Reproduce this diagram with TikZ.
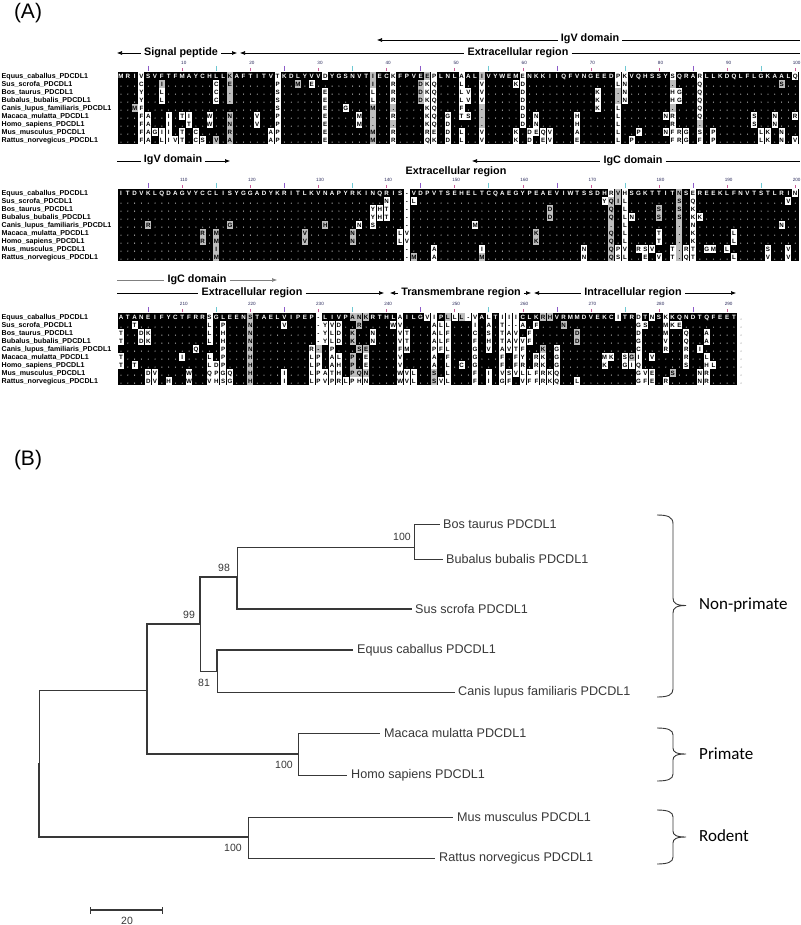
\documentclass[tikz,border=0pt]{standalone}
\usepackage{fontspec}
\setmainfont{Liberation Sans}
\newfontfamily\calib{Carlito}
\usetikzlibrary{arrows.meta}

\definecolor{algray}{gray}{0.74}
\definecolor{tkA}{RGB}{140,90,200}
\definecolor{tkB}{RGB}{110,200,210}
\definecolor{tkC}{RGB}{200,90,150}
\definecolor{numc}{RGB}{40,40,90}
\definecolor{treec}{gray}{0.22}

\newcommand\AX{117.6}
\newcommand\AW{6.81}
\newcommand\AH{8.0}
\newcommand\myalfont{\bfseries\fontsize{6.2}{6.2}\selectfont}
\newcommand\mynmfont{\bfseries\fontsize{7.1}{7.1}\selectfont}
\newcommand\myhdfont{\bfseries\fontsize{10.8}{11}\selectfont}
\newcommand\mynumfont{\fontsize{4.6}{4.6}\selectfont}
\newcommand\mytrfont{\fontsize{12.6}{13}\selectfont}
\newcommand\mybsfont{\fontsize{10.5}{11}\selectfont}

\newcount\alc
% consensus row: #1 block id, #2 y, #3 sequence
\def\consrow#1#2#3{\alc=0 \def\cbid{#1}\def\cyy{#2}\consparse#3!}
\def\consparse#1{\ifx#1!\let\alnext\relax\else\def\alch{#1}\let\alnext\consdo\fi\alnext}
\def\consdo{\advance\alc by 1
  \ifcsname cb@\cbid @\the\alc\endcsname
    \edef\cst{\csname cb@\cbid @\the\alc\endcsname}%
    \node[cell,\cst] at ({\AX+(\the\alc-0.5)*\AW},\cyy) {\alch};
  \else
    \node[aln,text=white] at ({\AX+(\the\alc-0.5)*\AW},\cyy) {\alch};
  \fi
  \consparse}
\newcommand\consbox[2]{\foreach \c/\s in {#2}{\expandafter\xdef\csname cb@#1@\c\endcsname{\s}}}

\tikzset{
  aln/.style={inner sep=0pt, text height=4.6pt, text depth=0pt, font=\myalfont},
  cell/.style={aln, minimum width=6.0pt, minimum height=7.2pt},
  sw/.style={fill=white, text=black},
  sg/.style={fill=algray, text=black},
  sk/.style={fill=black, text=white},
  nm/.style={anchor=west, inner sep=0pt, text height=5pt, text depth=0pt, font=\mynmfont},
  hdr/.style={inner ysep=1pt, inner xsep=3pt, font=\myhdfont},
  hl/.style={line width=0.6pt},
  tipr/.style={hl, -{Latex[length=5pt,width=4pt]}},
  tipl/.style={hl, {Latex[length=5pt,width=4pt]}-},
  br/.style={draw=treec, line width=0.75pt},
  brk/.style={draw=treec, line width=1.25pt},
  leaf/.style={anchor=west, inner sep=0pt, font=\mytrfont, text=treec},
  bs/.style={inner sep=0pt, font=\mybsfont, text=treec},
  grp/.style={anchor=west, inner sep=0pt, font=\calib\fontsize{17}{18}\selectfont},
  brace/.style={draw=treec, line width=0.9pt},
}

\newcommand\subrow[2]{\foreach \c/\t/\s in {#2}{\node[cell,\s] at ({\AX+(\c-0.5)*\AW},#1) {\t};}}

% #1 first row y, #2 number of columns, #3 offset of numbering
\newcommand\alblock[3]{%
  \fill[black] (\AX,#1-4) rectangle ({\AX+#2*\AW},{#1+8*\AH+4});
  \foreach \r in {1,...,8}{\foreach \c in {1,...,#2}{\fill[white] ({\AX+(\c-0.5)*\AW},{#1+\r*\AH+2.1}) circle (0.55pt);}}
  \foreach \c in {5,25,...,#2}{\draw[tkA,line width=0.6pt] ({\AX+(\c-0.5)*\AW},#1-10) -- ({\AX+(\c-0.5)*\AW},#1-5);}
  \foreach \c in {15,35,...,#2}{\draw[tkB,line width=0.6pt] ({\AX+(\c-0.5)*\AW},#1-10) -- ({\AX+(\c-0.5)*\AW},#1-5);}
  \foreach \c in {10,20,...,#2}{\draw[tkC,line width=0.5pt] ({\AX+(\c-0.5)*\AW},#1-8) -- ({\AX+(\c-0.5)*\AW},#1-5);
    \pgfmathtruncatemacro\lab{#3+\c}
    \node[inner sep=0pt, font=\mynumfont, text=numc] at ({\AX+(\c-0.5)*\AW+1.5},#1-13) {\lab};}
  \foreach \nme [count=\k from 0] in {Equus\_caballus\_PDCDL1, Sus\_scrofa\_PDCDL1, Bos\_taurus\_PDCDL1, Bubalus\_bubalis\_PDCDL1, Canis\_lupus\_familiaris\_PDCDL1, Macaca\_mulatta\_PDCDL1, Homo\_sapiens\_PDCDL1, Mus\_musculus\_PDCDL1, Rattus\_norvegicus\_PDCDL1}{\node[nm] at (1.5,{#1+\k*\AH}) {\nme};}
}

\begin{document}
\begin{tikzpicture}[x=1pt,y=-1pt]
\useasboundingbox (0,0) rectangle (800,925);
\fill[white] (0,0) rectangle (800,925);

% ================= (A) =================
\node[inner sep=0pt, font=\fontsize{21}{22}\selectfont] (labA) at (28,13) {(A)};

% ---------- block 1 ----------
\node[hdr] (igv1) at (590,39) {IgV domain};
\coordinate (igv1s) at (377,40); \coordinate (igv1e) at (800,40);
\draw[tipl] (igv1s) -- (igv1.west |- igv1s);
\draw[hl] (igv1.east |- igv1e) -- (igv1e);
\node[hdr] (sp1) at (181,53) {Signal peptide};
\coordinate (sp1s) at (117,53); \coordinate (sp1e) at (237,53);
\draw[tipl] (sp1s) -- (sp1.west);
\draw[tipr] (sp1.east) -- (sp1e);
\node[hdr] (ex1) at (518,53) {Extracellular region};
\coordinate (ex1s) at (240,53); \coordinate (ex1e) at (800,53);
\draw[tipl] (ex1s) -- (ex1.west);
\draw[hl] (ex1.east) -- (ex1e);

\alblock{76}{100}{0}
\consbox{a}{4/sw,17/sg,24/sw,31/sw,38/sg,41/sw,46/sg,47/sw,51/sw,54/sg,60/sw,74/sw,75/sw,82/sw,86/sw,100/sw}
\consrow{a}{76}{MRIVSVFTFMAYCHLLKAFTITVTKDLYVVDYGSNVTIECKFPVEEPLNLAALIVYWEMENKKIIQFVNGEEDPKVQHSSYSQRARLLKDQLFLGKAALQ}
\subrow{84}{4/C/sw,7/I/sg,15/C/sw,17/E/sg,24/P/sw,27/M/sg,29/E/sw,38/I/sg,41/R/sw,45/D/sg,46/K/sw,47/Q/sw,51/L/sw,54/V/sw,59/K/sw,60/D/sw,74/L/sw,75/N/sw,82/./sg,86/Q/sw,98/S/sg}
\subrow{92}{4/Y/sw,7/L/sw,15/C/sw,17/./sg,24/S/sw,31/E/sw,38/L/sw,41/R/sw,45/D/sg,46/K/sw,47/Q/sw,51/L/sw,52/V/sw,54/V/sw,60/D/sw,71/K/sw,74/./sg,75/N/sw,82/H/sw,83/G/sw,86/Q/sw}
\subrow{100}{4/Y/sw,7/L/sw,15/C/sw,17/./sg,24/S/sw,31/E/sw,38/L/sw,41/R/sw,45/D/sg,46/K/sw,47/Q/sw,51/L/sw,52/V/sw,54/V/sw,60/D/sw,71/K/sw,74/./sg,75/N/sw,82/H/sw,83/G/sw,86/Q/sw}
\subrow{108}{3/M/sg,4/F/sw,24/S/sw,31/E/sw,34/G/sw,38/M/sg,41/./sg,46/K/sw,47/Q/sw,51/F/sw,54/./sg,60/D/sw,71/K/sw,74/L/sw,82/./sg,86/Q/sw}
\subrow{116}{4/F/sw,5/A/sw,8/I/sw,10/T/sw,11/I/sw,14/W/sw,17/N/sg,21/V/sw,24/P/sw,31/E/sw,36/M/sw,38/./sg,41/R/sw,46/K/sw,47/Q/sw,49/G/sw,51/T/sw,52/S/sw,54/./sg,60/D/sw,62/N/sw,68/H/sw,74/L/sw,81/N/sw,82/R/sw,86/Q/sw,94/S/sw,97/N/sw,100/R/sw}
\subrow{124}{4/F/sw,5/A/sw,8/I/sw,11/T/sw,14/W/sw,17/N/sg,21/V/sw,24/P/sw,31/E/sw,36/M/sw,38/./sg,41/./sg,46/K/sw,47/Q/sw,49/D/sw,54/./sg,60/D/sw,62/N/sw,68/H/sw,74/L/sw,82/R/sw,86/./sg,94/S/sw,97/N/sw}
\subrow{132}{4/F/sw,5/A/sw,6/G/sw,7/I/sw,8/I/sw,10/T/sw,12/C/sw,17/R/sg,23/A/sw,24/P/sw,31/E/sw,38/M/sg,41/R/sw,46/R/sw,47/E/sw,49/D/sw,51/L/sw,54/V/sw,59/K/sw,61/D/sw,62/E/sw,63/Q/sw,64/V/sw,68/A/sw,74/L/sw,77/P/sw,81/N/sw,82/F/sw,83/R/sw,84/G/sw,86/S/sw,88/P/sw,95/L/sw,96/K/sw,98/N/sw}
\subrow{140}{4/F/sw,5/A/sw,7/L/sw,8/I/sw,9/V/sw,10/T/sw,12/C/sw,13/S/sw,15/V/sg,17/A/sg,23/A/sw,24/P/sw,31/E/sw,38/M/sg,41/R/sw,46/Q/sw,47/K/sw,49/D/sw,51/L/sw,54/V/sw,59/K/sw,61/D/sw,63/E/sw,64/V/sw,68/E/sw,74/L/sw,76/P/sw,82/F/sw,83/R/sw,84/G/sw,86/F/sw,88/P/sw,95/L/sw,96/K/sw,98/N/sw,100/V/sw}

% ---------- block 2 ----------
\node[hdr] (igv2) at (173,160) {IgV domain};
\coordinate (igv2s) at (117,161); \coordinate (igv2e) at (230,161);
\draw[hl] (igv2s) -- (igv2.west |- igv2s);
\draw[tipr] (igv2.east |- igv2e) -- (igv2e);
\node[hdr] (igc2) at (633,161) {IgC domain};
\coordinate (igc2s) at (472,161); \coordinate (igc2e) at (800,161);
\draw[tipl] (igc2s) -- (igc2.west);
\draw[hl] (igc2.east) -- (igc2e);
\node[hdr] (ex2) at (456,172) {Extracellular region};

\alblock{193}{100}{100}
\consbox{b}{43/sw,73/sw,74/sg,75/sw,83/sg,85/sw,100/sw}
\consrow{b}{193}{ITDVKLQDAGVYCCLISYGGADYKRITLKVNAPYRKINQRIS-VDPVTSEHELTCQAEGYPEAEVIWTSSDHRVHSGKTTITNSEREEKLFNVTSTLRIN}
\subrow{201}{40/N/sw,43/-/sw,44/L/sw,72/Y/sw,73/Q/sg,74/I/sg,75/L/sw,83/S/sg,85/Q/sw,99/V/sw}
\subrow{209}{38/Y/sw,39/H/sw,40/T/sw,43/-/sw,64/D/sg,73/Q/sg,75/L/sw,80/S/sg,83/S/sg,85/K/sw}
\subrow{217}{38/Y/sw,39/H/sw,40/T/sw,43/-/sw,64/D/sg,73/Q/sg,75/L/sw,76/N/sw,80/S/sg,83/S/sg,85/K/sw,86/K/sw}
\subrow{225}{5/R/sg,17/G/sg,31/H/sg,36/N/sw,38/S/sw,43/-/sw,53/M/sw,73/./sg,75/L/sw,83/./sg,85/N/sw,98/N/sw}
\subrow{233}{13/R/sg,15/M/sg,28/V/sg,35/N/sg,42/L/sw,43/V/sw,62/K/sg,73/Q/sg,75/L/sw,80/T/sw,83/./sg,85/K/sw,91/L/sw}
\subrow{241}{13/R/sg,15/M/sg,28/V/sg,35/N/sg,42/L/sw,43/V/sw,62/K/sg,73/Q/sg,75/L/sw,80/T/sw,83/./sg,85/K/sw,91/L/sw}
\subrow{249}{15/I/sg,43/-/sw,47/A/sw,54/I/sw,69/N/sw,73/Q/sg,74/P/sw,75/V/sw,77/R/sw,78/S/sw,79/V/sw,82/T/sw,83/./sg,84/R/sw,85/T/sw,87/G/sw,88/M/sw,90/L/sw,96/S/sw,99/V/sw}
\subrow{257}{15/M/sg,43/-/sw,44/M/sg,47/A/sw,54/M/sg,69/N/sw,73/Q/sg,74/S/sw,75/L/sw,78/E/sw,80/V/sw,82/T/sw,83/./sg,84/Q/sw,85/T/sw,91/L/sw,96/V/sw,99/V/sw}

% ---------- block 3 ----------
\node[hdr] (igc3) at (197,280) {IgC domain};
\coordinate (igc3s) at (117,280); \coordinate (igc3e) at (277,280);
\draw[hl,gray] (igc3s) -- (igc3.west);
\draw[tipr,gray] (igc3.east) -- (igc3e);
\node[hdr] (ex3) at (252,293) {Extracellular region};
\coordinate (ex3s) at (117,293); \coordinate (ex3e) at (384,293);
\draw[hl] (ex3s) -- (ex3.west);
\draw[tipr] (ex3.east) -- (ex3e);
\node[hdr] (tm3) at (461,293) {Transmembrane region};
\coordinate (tm3s) at (390,293); \coordinate (tm3e) at (531,293);
\draw[tipl] (tm3s) -- (tm3.west);
\draw[tipr] (tm3.east) -- (tm3e);
\node[hdr] (ic3) at (633,293) {Intracellular region};
\coordinate (ic3s) at (534,293); \coordinate (ic3e) at (736,293);
\draw[tipl] (ic3s) -- (ic3.west);
\draw[tipr] (ic3.east) -- (ic3e);

\alblock{317}{91}{200}
\consbox{c}{14/sw,20/sg,30/sw,35/sg,36/sg,37/sg,42/sw,46/sw,47/sw,49/sg,50/sw,51/sg,52/sw,53/sw,55/sw,57/sw,58/sw,59/sw,63/sg,64/sg,74/sw,77/sw,79/sw,81/sw}
\consrow{c}{317}{ATANEIFYCTFRRSGLEENSTAELVIPEP-LIVPANKRTHLAILGVIPLLL-VALTIIICLKRHVRMMDVEKCITRDTNSKKQNDTQFEET}
\subrow{325}{3/T/sw,14/L/sw,16/P/sw,20/N/sg,25/V/sw,30/-/sw,31/Y/sw,32/V/sw,33/D/sw,36/R/sg,41/W/sw,42/V/sw,47/A/sw,48/L/sw,49/L/sw,53/I/sw,55/A/sw,57/T/sw,58/-/sw,59/-/sw,60/A/sw,62/F/sw,66/N/sg,77/G/sw,78/S/sw,81/M/sw,82/K/sw,83/E/sw}
\subrow{333}{1/T/sw,4/D/sw,5/K/sw,14/L/sw,16/H/sw,20/N/sg,30/-/sw,31/Y/sw,32/L/sw,33/D/sw,35/K/sg,38/N/sw,42/V/sw,43/T/sw,47/A/sw,48/L/sw,49/F/sw,53/C/sw,55/S/sw,57/T/sw,58/A/sw,59/V/sw,61/F/sw,68/D/sg,77/D/sw,81/M/sw,84/Q/sw,87/A/sw}
\subrow{341}{1/T/sw,4/D/sw,5/K/sw,14/L/sw,16/H/sw,20/N/sg,30/-/sw,31/Y/sw,32/L/sw,33/D/sw,35/K/sg,38/N/sw,42/V/sw,43/T/sw,47/A/sw,48/L/sw,49/F/sw,53/F/sw,55/H/sw,57/T/sw,58/A/sw,59/V/sw,60/V/sw,61/F/sw,68/D/sg,77/G/sw,81/V/sw,84/Q/sw,87/A/sw}
\subrow{349}{12/Q/sw,16/P/sw,20/N/sg,29/R/sw,30/-/sg,32/P/sw,36/S/sg,37/E/sg,42/F/sw,43/M/sw,47/P/sw,48/F/sw,49/L/sw,53/G/sw,55/V/sw,57/A/sw,58/V/sw,59/T/sw,60/F/sw,63/K/sg,65/G/sw,77/C/sw,81/R/sw,84/R/sw,86/I/sw}
\subrow{357}{1/T/sw,10/I/sw,14/L/sw,16/P/sw,20/H/sg,29/L/sw,30/P/sw,32/A/sw,33/L/sw,35/P/sg,37/E/sw,42/V/sw,47/A/sw,49/F/sw,53/G/sw,57/F/sw,59/F/sw,60/Y/sw,62/R/sw,63/K/sw,65/G/sw,72/M/sw,73/K/sw,75/S/sw,76/G/sg,77/I/sw,79/V/sw,84/R/sw,87/L/sw}
\subrow{365}{1/T/sw,3/T/sw,14/L/sw,15/D/sw,16/P/sw,20/H/sg,29/L/sw,30/P/sw,32/A/sw,33/H/sw,35/P/sg,37/E/sw,42/V/sw,47/A/sw,49/L/sw,51/C/sw,53/G/sw,57/F/sw,59/F/sw,60/R/sw,62/R/sw,63/K/sw,65/G/sw,72/K/sw,75/G/sw,76/I/sw,77/Q/sw,84/S/sw,87/H/sw,88/L/sw}
\subrow{373}{5/D/sw,6/V/sw,11/W/sw,14/Q/sw,15/P/sw,16/G/sw,17/Q/sw,20/H/sg,25/I/sw,29/L/sw,30/P/sw,31/A/sw,32/T/sw,33/H/sw,35/P/sg,36/Q/sg,37/N/sg,42/W/sw,43/V/sw,44/L/sw,47/S/sg,49/L/sw,53/F/sw,55/I/sw,57/V/sw,58/S/sw,59/V/sw,60/L/sw,61/L/sw,62/F/sw,63/R/sw,64/K/sw,65/Q/sw,77/G/sw,78/V/sw,79/E/sw,82/S/sg,86/N/sw,87/R/sw}
\subrow{381}{5/D/sw,6/V/sw,8/H/sw,11/W/sw,14/V/sw,15/H/sw,16/S/sw,17/G/sw,20/H/sg,25/I/sw,29/L/sw,30/P/sw,31/V/sw,32/P/sw,33/R/sw,34/L/sw,35/P/sw,36/H/sw,37/N/sw,42/W/sw,43/V/sw,44/L/sw,47/S/sg,48/V/sw,49/L/sw,53/F/sw,55/I/sw,57/G/sw,58/F/sw,60/V/sw,61/F/sw,62/F/sw,63/R/sw,64/K/sw,65/Q/sw,68/L/sw,77/G/sw,78/F/sw,79/E/sw,81/R/sw,86/N/sw,87/R/sw}
\foreach \r in {0,...,8}{\fill[gray] (741,{317+\r*\AH+2.1}) circle (0.6pt);}

% ================= (B) =================
\node[inner sep=0pt, font=\fontsize{21}{22}\selectfont] (labB) at (28,460) {(B)};

% internal nodes (attachment points)
\coordinate (root) at (39,763);
\coordinate (nA)   at (147,690);
\coordinate (n99)  at (200,624);
\coordinate (n98)  at (237,577);
\coordinate (nbov) at (414,547);
\coordinate (n81)  at (217,671);
\coordinate (npri) at (298,754);
\coordinate (nrod) at (248,837);
% leaves
\node[leaf] (bos) at (443,524) {Bos taurus PDCDL1};
\node[leaf] (bub) at (446,559) {Bubalus bubalis PDCDL1};
\node[leaf] (sus) at (415,609) {Sus scrofa PDCDL1};
\node[leaf] (equ) at (357,650) {Equus caballus PDCDL1};
\node[leaf] (can) at (458,692) {Canis lupus familiaris PDCDL1};
\node[leaf] (mac) at (384,733) {Macaca mulatta PDCDL1};
\node[leaf] (hom) at (351,775) {Homo sapiens PDCDL1};
\node[leaf] (mus) at (457,817) {Mus musculus PDCDL1};
\node[leaf] (rat) at (439,858) {Rattus norvegicus PDCDL1};

\draw[br] (root) |- (nA);
\draw[brk] (root) |- (nrod);
\draw[brk] (nA) |- (n99);
\draw[brk] (nA) |- (npri);
\draw[brk] (n99) |- (n98);
\draw[br] (n99) |- (n81);
\draw[br] (n98) |- (nbov);
\draw[brk] (n98) |- ([xshift=-3pt]sus.west);
\draw[br] (nbov) |- ([xshift=-3pt]bos.west);
\draw[br] (nbov) |- ([xshift=-3pt]bub.west);
\draw[brk] (n81) |- ([xshift=-4pt]equ.west);
\draw[br] (n81) |- ([xshift=-3pt]can.west);
\draw[br] (npri) |- ([xshift=-4pt]mac.west);
\draw[br] (npri) |- ([xshift=-4pt]hom.west);
\draw[br] (nrod) |- ([xshift=-4pt]mus.west);
\draw[br] (nrod) |- ([xshift=-4pt]rat.west);

% bootstrap values
\node[bs] (b1) at (402,537) {100};
\node[bs] (b2) at (224,568) {98};
\node[bs] (b3) at (189,615) {99};
\node[bs] (b4) at (204,683) {81};
\node[bs] (b5) at (284,765) {100};
\node[bs] (b6) at (233,848) {100};

% braces and groups
\draw[brace] (657,515) .. controls (668,515) and (673,517) .. (673,524) -- (673,598) .. controls (673,603) and (676,605.5) .. (686,605.5) .. controls (676,605.5) and (673,608) .. (673,613) -- (673,689) .. controls (673,695) and (668,697) .. (657,697);
\node[grp] (gnp) at (699,605) {Non-primate};
\draw[brace] (657,728) .. controls (668,728) and (673,730) .. (673,735) -- (673,748) .. controls (673,752) and (676,754) .. (686,754) .. controls (676,754) and (673,756) .. (673,760) -- (673,774) .. controls (673,779) and (668,781) .. (657,781);
\node[grp] (gpr) at (699,754) {Primate};
\draw[brace] (657,810) .. controls (668,810) and (673,812) .. (673,817) -- (673,831) .. controls (673,835) and (676,837) .. (686,837) .. controls (676,837) and (673,839) .. (673,843) -- (673,857) .. controls (673,862) and (668,864) .. (657,864);
\node[grp] (gro) at (699,836) {Rodent};

% scale bar
\coordinate (sb1) at (90,910); \coordinate (sb2) at (162,910);
\draw[treec, line width=1.1pt] (sb1) -- (sb2);
\draw[treec, line width=0.9pt] ([yshift=-3.5pt]sb1) -- ([yshift=3.5pt]sb1);
\draw[treec, line width=0.9pt] ([yshift=-3.5pt]sb2) -- ([yshift=3.5pt]sb2);
\node[bs] (sbl) at (127,920.5) {20};
\end{tikzpicture}
\end{document}
